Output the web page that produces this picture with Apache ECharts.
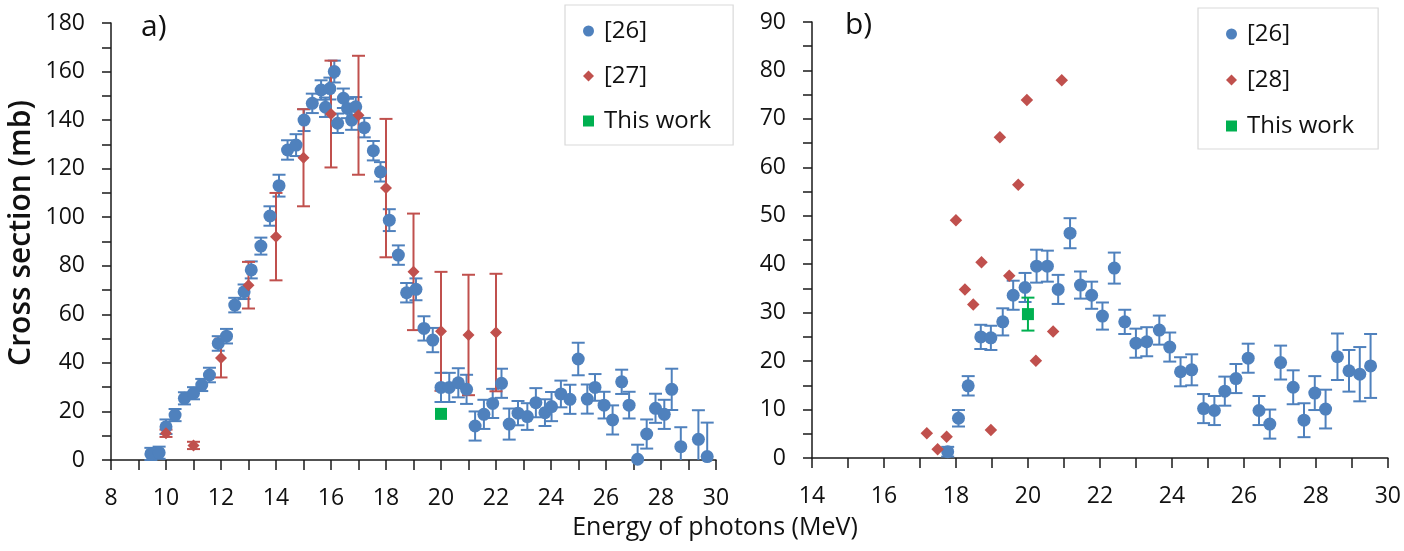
<!DOCTYPE html>
<html>
<head>
<meta charset="utf-8">
<script src="https://cdn.jsdelivr.net/npm/echarts@6/dist/echarts.min.js"></script>
<style>html,body{margin:0;padding:0;background:#fff;}#c{width:1404px;height:551px;}</style>
</head>
<body>
<div id="c"></div>
<script>
// ---- Panel a) data ----
const xA26 = [9.45, 9.75, 10.0, 10.33, 10.67, 11.0, 11.3, 11.58, 11.9, 12.2, 12.5, 12.84, 13.1, 13.45, 13.78, 14.11, 14.42, 14.73, 15.02, 15.32, 15.64, 15.8, 15.96, 16.12, 16.24, 16.45, 16.6, 16.75, 16.9, 17.21, 17.54, 17.8, 18.12, 18.45, 18.75, 19.09, 19.38, 19.7, 20.0, 20.3, 20.63, 20.93, 21.24, 21.56, 21.88, 22.2, 22.48, 22.8, 23.14, 23.45, 23.78, 24.02, 24.36, 24.69, 24.99, 25.32, 25.6, 25.93, 26.24, 26.57, 26.84, 27.15, 27.48, 27.8, 28.12, 28.39, 28.72, 29.36, 29.68];
const yA26 = [2.5, 3, 13.7, 18.5, 25.4, 27.5, 30.9, 35, 48, 51, 63.8, 69.3, 78.3, 88.1, 100.5, 113, 127.7, 129.7, 140, 146.9, 152.4, 145.3, 153, 160, 138.7, 149, 144.8, 140, 145.5, 136.9, 127.4, 118.7, 98.8, 84.4, 68.9, 70.3, 54.2, 49.4, 29.9, 29.9, 31.8, 29.1, 14, 18.8, 23.3, 31.6, 14.8, 19.3, 17.9, 23.6, 19.5, 22, 27.2, 25, 41.6, 25.1, 29.9, 22.6, 16.5, 32.2, 22.6, 0.3, 10.7, 21.3, 18.8, 29.1, 5.5, 8.5, 1.4];
const eA26 = [2.5, 2.5, 3, 2.5, 2.5, 2.5, 2.5, 3, 3, 3, 3, 3, 3.5, 3.5, 4, 4.5, 4, 4.5, 4.5, 4, 4, 4, 4.5, 4.5, 4, 4, 4, 4, 4, 4, 4, 4, 4.5, 4, 4, 4.5, 5, 5, 6, 6, 6, 6, 6, 6, 6, 6, 6.4, 5, 5.5, 6, 5.5, 6, 5.5, 6, 6.7, 6, 5.5, 5.5, 6, 5, 5.5, 6, 6, 6, 6, 8.5, 8, 12, 14];

const xA27 = [10, 11, 12, 13, 14, 15, 16, 17, 18, 19, 20, 21, 22];
const yA27 = [11, 6, 42, 72, 92, 124.5, 142.5, 142, 112, 77.5, 53, 51.5, 52.5];
const eA27 = [1.5, 1.5, 8, 9.6, 18, 20, 22, 24.5, 28.5, 24, 24.5, 24.8, 24.2];

const xAThis = [20];
const yAThis = [19];

// ---- Panel b) data ----
const xB26 = [17.77, 18.07, 18.34, 18.69, 18.97, 19.3, 19.59, 19.92, 20.24, 20.54, 20.84, 21.17, 21.46, 21.77, 22.07, 22.4, 22.69, 23.0, 23.3, 23.65, 23.94, 24.24, 24.55, 24.88, 25.18, 25.47, 25.78, 26.12, 26.42, 26.72, 27.02, 27.37, 27.67, 27.97, 28.27, 28.6, 28.92, 29.22, 29.52];
const yB26 = [1.3, 8.2, 14.9, 25, 24.8, 28.1, 33.6, 35.2, 39.6, 39.6, 34.8, 46.4, 35.7, 33.6, 29.3, 39.2, 28.1, 23.7, 24, 26.4, 22.9, 17.8, 18.2, 10.2, 9.8, 13.8, 16.4, 20.6, 9.8, 7, 19.7, 14.6, 7.8, 13.4, 10.1, 20.9, 18, 17.3, 19];
const eB26 = [1, 1.7, 2, 2.5, 2.5, 2.8, 3, 3, 3.4, 3.2, 3, 3.1, 2.8, 2.8, 2.8, 3.2, 2.5, 3, 3, 3, 3, 3, 3.2, 3, 3, 3, 3, 3, 3, 3, 3.5, 3.5, 3.5, 3.5, 4, 4.8, 4.3, 5.6, 6.6];

const xB28 = [17.19, 17.49, 17.74, 18.0, 18.25, 18.48, 18.71, 18.97, 19.22, 19.48, 19.73, 19.97, 20.22, 20.7, 20.94];
const yB28 = [5.1, 1.8, 4.4, 49.1, 34.8, 31.7, 40.4, 5.8, 66.2, 37.6, 56.4, 73.9, 20.1, 26.1, 78];

const xBThis = [20];
const yBThis = [29.7];
const eBThis = [3.4];

// ---- Tick settings ----
const xTicksA = {min: 8, max: 30, interval: 2};
const yTicksA = {min: 0, max: 180, interval: 20};
const xTicksB = {min: 14, max: 30, interval: 2};
const yTicksB = {min: 0, max: 90, interval: 10};

const BLUE = '#4F81BD', RED = '#C0504D', GREEN = '#00B050';
const FONT = '"Open Sans", "Noto Sans", sans-serif';

function pts(xs, ys) { return xs.map((x, i) => [x, ys[i]]); }
function errPts(xs, ys, es) { return xs.map((x, i) => [x, ys[i], es[i]]); }

function errRender(color) {
  return function (params, api) {
    const x = api.value(0), y = api.value(1), e = api.value(2);
    const lo = Math.max(y - e, 0);
    const pt = api.coord([x, y + e]);
    const pb = api.coord([x, lo]);
    const cap = 6.5;
    const st = {stroke: color, lineWidth: 2};
    const ch = [
      {type: 'line', shape: {x1: pt[0], y1: pt[1], x2: pb[0], y2: pb[1]}, style: st},
      {type: 'line', shape: {x1: pt[0] - cap, y1: pt[1], x2: pt[0] + cap, y2: pt[1]}, style: st}
    ];
    if (y - e >= 0) ch.push({type: 'line', shape: {x1: pb[0] - cap, y1: pb[1], x2: pb[0] + cap, y2: pb[1]}, style: st});
    return {type: 'group', children: ch};
  };
}

function xAxis(g, t) {
  return {
    type: 'value', gridIndex: g, min: t.min, max: t.max, interval: t.interval,
    axisLine: {show: true, onZero: false, lineStyle: {color: '#1a1a1a', width: 1.5}},
    axisTick: {show: true, length: 10, lineStyle: {color: '#1a1a1a', width: 1.5}},
    minorTick: {show: true, splitNumber: 2, length: 10, lineStyle: {color: '#1a1a1a', width: 1.5}},
    splitLine: {show: false},
    axisLabel: {fontSize: 23, fontFamily: FONT, color: '#111', margin: 27}
  };
}
function yAxis(g, t) {
  return {
    type: 'value', gridIndex: g, min: t.min, max: t.max, interval: t.interval,
    axisLine: {show: true, lineStyle: {color: '#1a1a1a', width: 1.5}},
    axisTick: {show: true, length: 9, lineStyle: {color: '#1a1a1a', width: 1.5}},
    minorTick: {show: true, splitNumber: 2, length: 9, lineStyle: {color: '#1a1a1a', width: 1.5}},
    splitLine: {show: false},
    axisLabel: {fontSize: 23, fontFamily: FONT, color: '#111', margin: 26}
  };
}

function errSeries(name, xi, data, color) {
  return {
    type: 'custom', name: name, xAxisIndex: xi, yAxisIndex: xi, data: data,
    renderItem: errRender(color), encode: {x: 0, y: 1}, silent: true, z: 1
  };
}
function scat(name, xi, data, symbol, size, color) {
  return {
    type: 'scatter', name: name, xAxisIndex: xi, yAxisIndex: xi, data: data,
    symbol: symbol, symbolSize: size, itemStyle: {color: color, opacity: 1}, z: 3, silent: true
  };
}

function legend(left, top, names, padding, gap) {
  return {
    orient: 'vertical', left: left, top: top,
    data: [{name: names[0], icon: 'circle'}, {name: names[1], icon: 'diamond'}, {name: names[2], icon: 'rect'}],
    borderColor: '#d9d9d9', borderWidth: 1.2, backgroundColor: '#fff',
    padding: padding, itemGap: gap, itemWidth: 11, itemHeight: 11,
    selectedMode: false,
    textStyle: {fontSize: 24, fontFamily: FONT, color: '#111', padding: [0, 0, 0, 5]}
  };
}

const chart = echarts.init(document.getElementById('c'), null, {renderer: 'canvas'});
chart.setOption({
  animation: false,
  backgroundColor: '#fff',
  grid: [
    {left: 111, top: 23, width: 605, height: 437},
    {left: 812, top: 22, width: 576, height: 436}
  ],
  xAxis: [xAxis(0, xTicksA), xAxis(1, xTicksB)],
  yAxis: [yAxis(0, yTicksA), yAxis(1, yTicksB)],
  legend: [
    legend(565, 5, ['[26]', '[27]', 'This work'], [14, 22, 12, 18], 21),
    legend(1198, 8, ['[26]', '[28]', 'This work'], [14, 24, 11, 28], 22)
  ],
  series: [
    errSeries('errA26', 0, errPts(xA26, yA26, eA26), BLUE),
    errSeries('errA27', 0, errPts(xA27, yA27, eA27), RED),
    scat('[26]', 0, pts(xA26, yA26), 'circle', 13, BLUE),
    scat('[27]', 0, pts(xA27, yA27), 'diamond', 12, RED),
    scat('This work', 0, pts(xAThis, yAThis), 'rect', 12, GREEN),
    errSeries('errB26', 1, errPts(xB26, yB26, eB26), BLUE),
    errSeries('errBThis', 1, errPts(xBThis, yBThis, eBThis), GREEN),
    scat('[26]', 1, pts(xB26, yB26), 'circle', 13, BLUE),
    scat('[28]', 1, pts(xB28, yB28), 'diamond', 12.5, RED),
    scat('This work', 1, pts(xBThis, yBThis), 'rect', 12, GREEN)
  ],
  graphic: [
    {type: 'text', left: 141, top: 12, style: {text: 'a)', fontSize: 30, fontFamily: FONT, fill: '#111'}},
    {type: 'text', left: 845, top: 10, style: {text: 'b)', fontSize: 30, fontFamily: FONT, fill: '#111'}},
    {type: 'text', x: 715, y: 528, style: {text: 'Energy of photons (MeV)', fontSize: 25, fontFamily: FONT, fill: '#111', align: 'center', verticalAlign: 'middle'}},
    {type: 'text', x: 21, y: 233, rotation: Math.PI / 2, style: {text: 'Cross section (mb)', fontSize: 30, fontWeight: 600, fontFamily: FONT, fill: '#111', align: 'center', verticalAlign: 'middle'}}
  ]
});
</script>
</body>
</html>
